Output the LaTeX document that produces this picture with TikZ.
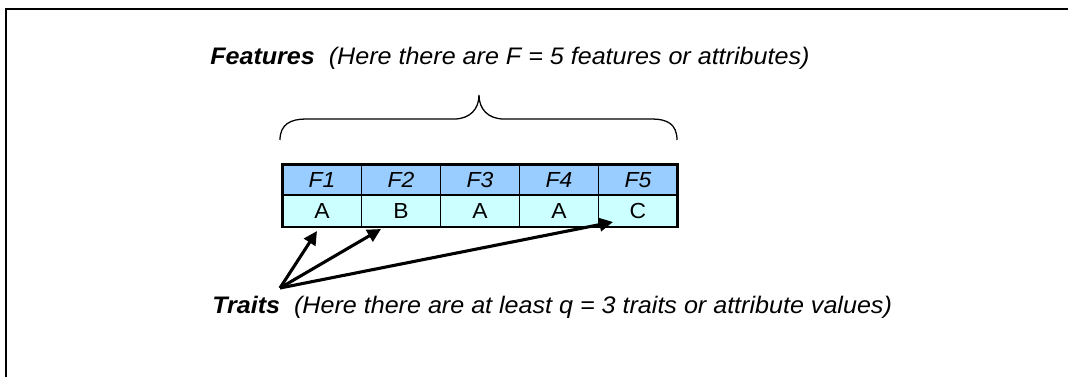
\documentclass[tikz,border=0pt]{standalone}
\usepackage{fontspec}
\setmainfont{Liberation Sans}[FakeStretch=1.05]
\usetikzlibrary{arrows.meta}
\definecolor{headblue}{HTML}{99CCFF}
\definecolor{valcyan}{HTML}{CCFFFF}

\begin{document}
\begin{tikzpicture}[x=0.025cm, y=-0.025cm, font=\fontsize{17}{20}\selectfont,
cell/.style ={draw, line width=1.2pt, rectangle, inner sep=0pt, outer sep=0pt, minimum width=1.975cm, font=\fontsize{15.5}{18}\selectfont},
head/.style ={cell, fill=headblue, minimum height=0.775cm, font=\fontsize{15.5}{18}\selectfont\itshape},
val/.style ={cell, fill=valcyan, minimum height=0.8cm},
pointer/.style ={line width=2.2pt, -{Triangle[length=0.34cm,width=0.33cm]}}]

\useasboundingbox (0,0) rectangle (1068,377);
\draw[line width=1.5pt] (6,377) -- (6,9) -- (1068,9);

\node[head] (F1) at (322,180) {F1};
\node[head] (F2) at (401,180) {F2};
\node[head] (F3) at (480,180) {F3};
\node[head] (F4) at (559,180) {F4};
\node[head] (F5) at (638,180) {F5};
\node[val] (V1) at (322,211) {A};
\node[val] (V2) at (401,211) {B};
\node[val] (V3) at (480,211) {A};
\node[val] (V4) at (559,211) {A};
\node[val] (V5) at (638,211) {C};
\draw[line width=2pt] (F1.north west) rectangle (V5.south east);

% brace over the features
\draw[line width=0.9pt] (280,140) .. controls (280,124) and (291,119) .. (306,119) -- (454,119)
  .. controls (470,119) and (479,109) .. (479,95) .. controls (479,109) and (488,119) .. (504,119)
  -- (652,119) .. controls (667,119) and (677,124) .. (677,140);

\node[anchor=base west, inner sep=0pt] (feat) at (210,64) {\textbf{\textit{Features}}\ \ \textit{(Here there are F = 5 features or attributes)}};
\node[anchor=base west, inner sep=0pt] (trait) at (212,313) {\textbf{\textit{Traits}}\ \ \textit{(Here there are at least q = 3 traits or attribute values)}};

\coordinate (src) at (280,288);
\coordinate (t1) at (317,231);
\coordinate (t2) at (381,229);
\coordinate (t3) at (613,222);
\draw[pointer] (src) -- (t1);
\draw[pointer] (src) -- (t2);
\draw[pointer] (src) -- (t3);

\end{tikzpicture}
\end{document}
